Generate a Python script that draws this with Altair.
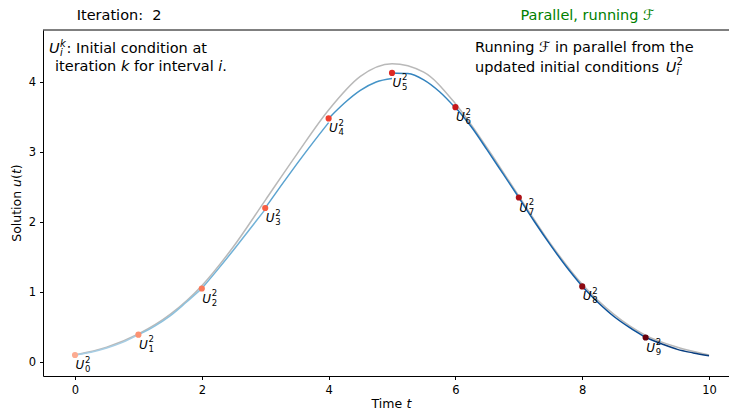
import altair as alt
import pandas as pd

# ---------------- data ----------------
iteration = 2

# grey reference curve
gray_t = [0, 0.5, 1, 1.5, 2, 2.5, 3, 3.5, 4, 4.5, 5, 5.5, 6, 6.5, 7, 7.5, 8, 8.5, 9, 9.5, 10]
gray_u = [0.10, 0.21, 0.40, 0.68, 1.09, 1.65, 2.31, 2.97, 3.60, 4.08, 4.26, 4.14, 3.69,
          3.06, 2.37, 1.69, 1.11, 0.68, 0.38, 0.21, 0.10]

# fine propagator runs, one per interval [i, i+1]
seg_start = [0, 1, 2, 3, 4, 5, 6, 7, 8, 9]
seg_offsets = [0, 0.25, 0.5, 0.75, 1.0]
seg_u = [
    [0.10, 0.14, 0.20, 0.28, 0.39],
    [0.39, 0.51, 0.66, 0.85, 1.05],
    [1.05, 1.32, 1.60, 1.89, 2.18],
    [2.20, 2.52, 2.83, 3.13, 3.42],
    [3.48, 3.70, 3.88, 4.00, 4.05],
    [4.13, 4.12, 4.03, 3.86, 3.63],
    [3.64, 3.36, 3.03, 2.69, 2.35],
    [2.35, 2.00, 1.67, 1.36, 1.08],
    [1.08, 0.85, 0.65, 0.49, 0.35],
    [0.35, 0.26, 0.18, 0.13, 0.09],
]

# initial conditions U_i^k
pt_t = [0, 1, 2, 3, 4, 5, 6, 7, 8, 9]
pt_u = [0.10, 0.39, 1.05, 2.20, 3.48, 4.13, 3.64, 2.35, 1.08, 0.35]
pt_sub = ["0", "1", "2", "3", "4", "5", "6", "7", "8", "9"]

x_ticks = [0, 2, 4, 6, 8, 10]
y_ticks = [0, 1, 2, 3, 4]

# ---------------- styles ----------------
line_colors = ["#a6cde4", "#8dc1dd", "#72b2d7", "#5ba3d0", "#4594c7",
               "#3383be", "#2171b5", "#1460a8", "#084f99", "#083d7f"]
point_colors = ["#fcab91", "#fc9272", "#fb7a5a", "#f85e42", "#f03f2e",
                "#dd2a25", "#c61619", "#ae1117", "#8d0912", "#67000d"]
FONT = "DejaVu Sans"
W, H = 686, 346

# ---------------- tables ----------------
gray_df = pd.DataFrame({"t": gray_t, "u": gray_u})
rows = []
for i, s in enumerate(seg_start):
    for off, u in zip(seg_offsets, seg_u[i]):
        rows.append({"t": s + off, "u": u, "seg": i})
blue_df = pd.DataFrame(rows)
pts_df = pd.DataFrame({
    "t": pt_t, "u": pt_u, "idx": list(range(len(pt_t))),
    "U": ["U"] * len(pt_t), "sub": pt_sub, "sup": [str(iteration)] * len(pt_t),
})

x_enc = alt.X("t:Q",
              scale=alt.Scale(domain=[-0.505, 10.315], nice=False, zero=False),
              axis=alt.Axis(values=x_ticks, format="d", title=None, labelPadding=5))
y_enc = alt.Y("u:Q",
              scale=alt.Scale(domain=[-0.2, 4.743], nice=False, zero=False),
              axis=alt.Axis(values=y_ticks, format="d", title=None, labelPadding=4))

gray = alt.Chart(gray_df).mark_line(color="#b9b9b9", strokeWidth=1.5,
                                    interpolate="monotone").encode(x=x_enc, y=y_enc)

blue = alt.Chart(blue_df).mark_line(strokeWidth=1.5, interpolate="monotone").encode(
    x=x_enc, y=y_enc,
    color=alt.Color("seg:O", scale=alt.Scale(domain=list(range(10)), range=line_colors),
                    legend=None),
)

points = alt.Chart(pts_df).mark_circle(size=38, opacity=1).encode(
    x=x_enc, y=y_enc,
    color=alt.Color("idx:O", scale=alt.Scale(domain=list(range(10)), range=point_colors),
                    legend=None),
)

lab_U = alt.Chart(pts_df).mark_text(align="left", baseline="alphabetic", dx=0.5, dy=14,
                                    font=FONT, fontSize=12, fontStyle="italic",
                                    color="black").encode(x=x_enc, y=y_enc, text="U:N")
lab_sub = alt.Chart(pts_df).mark_text(align="left", baseline="alphabetic", dx=10, dy=17,
                                      font=FONT, fontSize=8.5,
                                      color="black").encode(x=x_enc, y=y_enc, text="sub:N")
lab_sup = alt.Chart(pts_df).mark_text(align="left", baseline="alphabetic", dx=10, dy=7.5,
                                      font=FONT, fontSize=8.5,
                                      color="black").encode(x=x_enc, y=y_enc, text="sup:N")

dummy = pd.DataFrame({"a": [0]})

# top spine (the right spine lies outside the picture in the reference)
top_spine = alt.Chart(dummy).mark_rule(color="black", strokeWidth=1).encode(
    x=alt.value(0), x2=alt.value(W), y=alt.value(0))


def txt(s, x, y, size=14.5, italic=False, color="black", align="left", angle=0):
    kw = dict(text=s, font=FONT, fontSize=size, color=color, align=align,
              baseline="alphabetic")
    if italic:
        kw["fontStyle"] = "italic"
    if angle:
        kw["angle"] = angle
    return alt.Chart(dummy).mark_text(**kw).encode(x=alt.value(x), y=alt.value(y))


YT = -22.0  # baseline of the rotated y-axis title

annots = [
    txt("Iteration:\u00a0 " + str(iteration), 33.7, -10),
    txt("Parallel, running \u2131", 544.5, -10.5, color="#008000", align="center"),
    # left box
    txt("U", 6, 23, italic=True),
    txt("k", 17, 16.5, size=10, italic=True),
    txt("i", 17, 26, size=10, italic=True),
    txt(": Initial condition at", 23.5, 23),
    txt("iteration", 12, 41),
    txt("k", 77.9, 41, italic=True),
    txt("for interval", 90.9, 41),
    txt("i", 175.3, 41, italic=True),
    txt(".", 179.3, 41),
    # right box
    txt("Running \u2131 in parallel from the", 432, 22),
    txt("updated initial conditions", 432, 41.5),
    txt("U", 622.7, 41.5, italic=True),
    txt(str(iteration), 633.5, 35, size=10),
    txt("i", 633.5, 44.5, size=10, italic=True),
    # x axis title: "Time t"
    txt("Time", 328.5, H + 32, size=12.5),
    txt("t", 363.5, H + 32, size=12.5, italic=True),
    # y axis title: "Solution u(t)" (rotated)
    txt("Solution", YT, 211.8, size=12.5, angle=270),
    txt("u", YT, 156.9, size=12.5, italic=True, angle=270),
    txt("(", YT, 149.0, size=12.5, angle=270),
    txt("t", YT, 144.1, size=12.5, italic=True, angle=270),
    txt(")", YT, 139.2, size=12.5, angle=270),
]

chart = alt.layer(gray, blue, points, lab_U, lab_sub, lab_sup, top_spine, *annots).resolve_scale(
    color="independent"
).properties(
    width=W, height=H,
    autosize="none",
    padding={"left": 35, "top": 22, "right": 0, "bottom": 36},
).configure_view(
    stroke=None
).configure_axis(
    grid=False, domainColor="black", domainWidth=1, tickColor="black", tickWidth=1,
    tickSize=3.5, labelColor="black", labelFont=FONT, labelFontSize=11.5,
)

chart.save("out.html", embed_options={"renderer": "svg", "actions": False})
